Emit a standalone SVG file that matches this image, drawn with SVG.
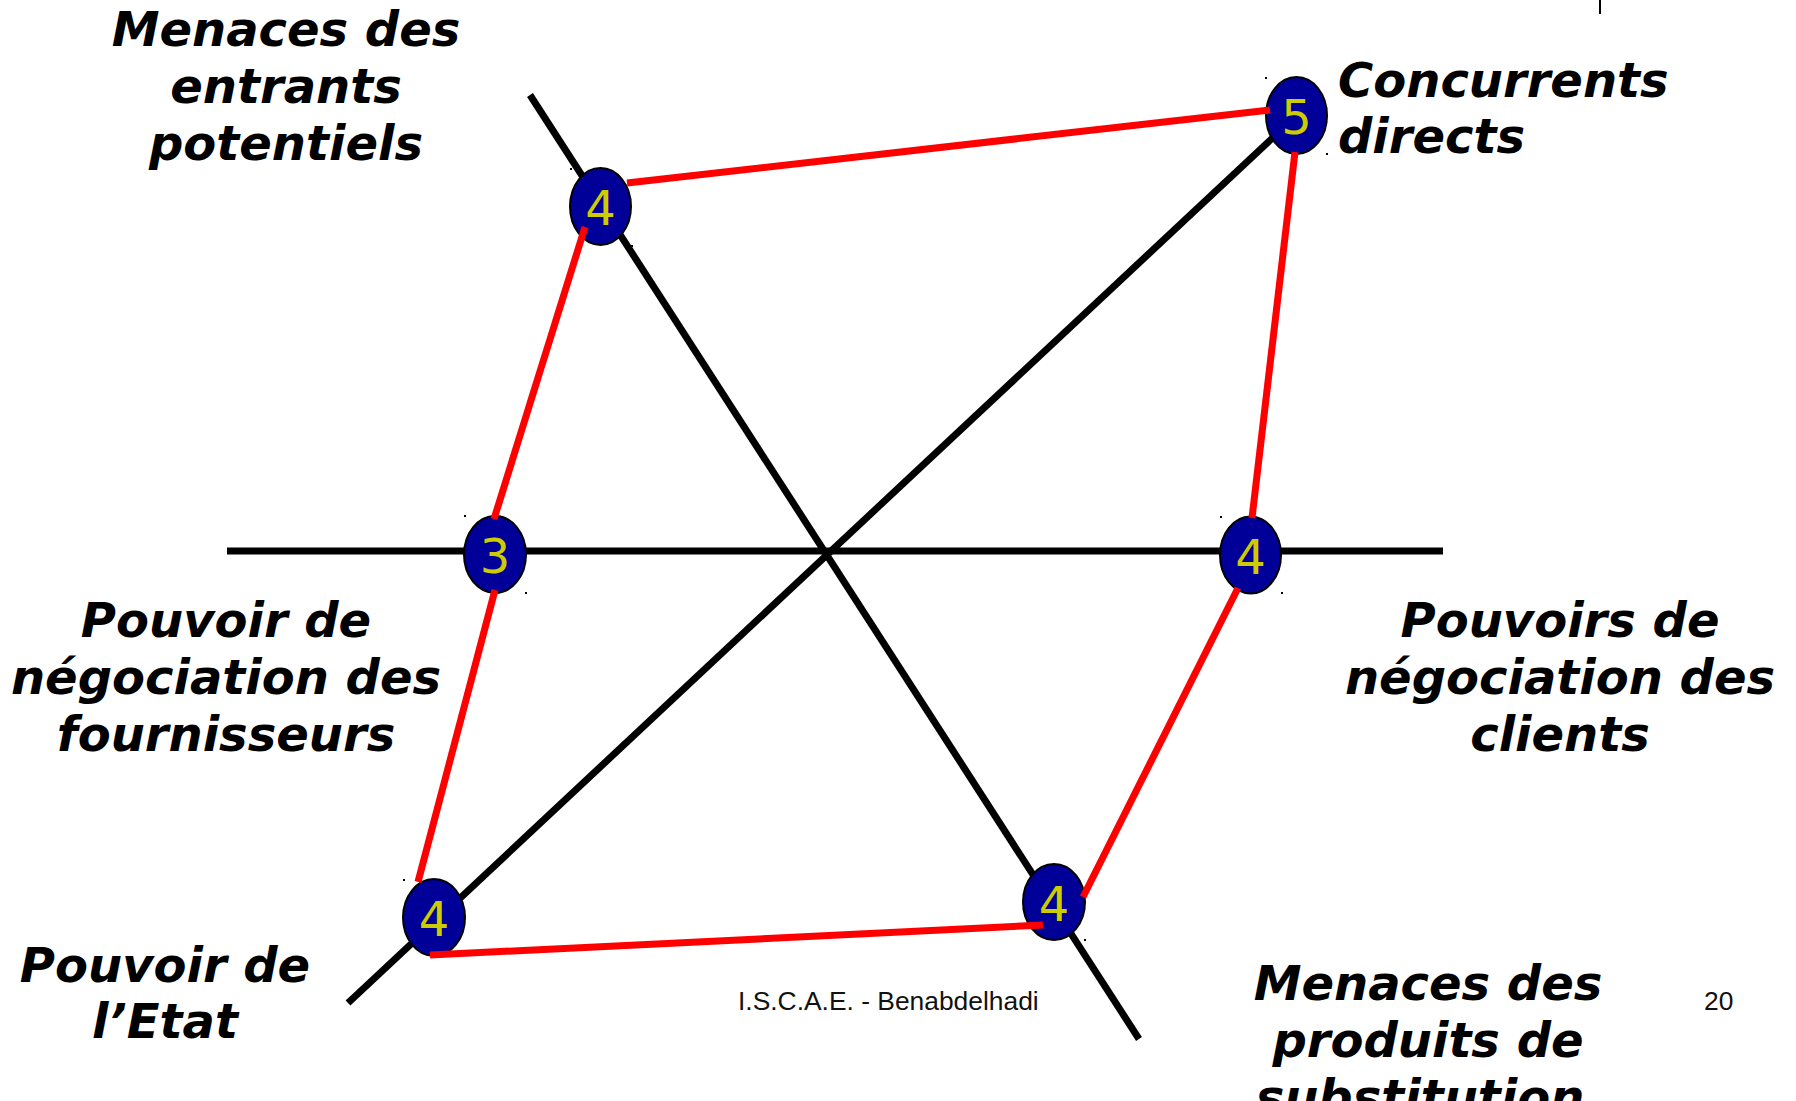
<svg xmlns="http://www.w3.org/2000/svg" width="1796" height="1101" viewBox="0 0 1796 1101">
<style>
.lbl{font-family:"DejaVu Sans",sans-serif;font-weight:bold;font-style:italic;font-size:48px;fill:#000}
.mid{text-anchor:middle}
.axis{stroke:#000;stroke-width:7;fill:none}
.red{stroke:#ff0000;stroke-width:7;fill:none}
.node ellipse{fill:#000099;stroke:#000;stroke-width:2}
.node text{font-family:"DejaVu Sans",sans-serif;font-size:48px;fill:#cccc00;text-anchor:middle}
.foot{font-family:"Liberation Sans",Arial,sans-serif;font-size:26.4px;fill:#111}
.dot{fill:#000}
</style>
<rect width="1796" height="1101" fill="#fff"/>
<line x1="1600" y1="0" x2="1600" y2="14" stroke="#000" stroke-width="2"/>
<g id="axes">
<line class="axis" x1="227" y1="551" x2="1443" y2="551"/>
<line class="axis" x1="530" y1="95" x2="1139" y2="1039"/>
<line class="axis" x1="348" y1="1003" x2="1296" y2="116"/>
</g>
<g id="labels">
<text class="lbl mid" x="286" y="46">Menaces des</text>
<text class="lbl mid" x="286" y="103">entrants</text>
<text class="lbl mid" x="286" y="160">potentiels</text>
<text class="lbl" x="1338" y="97">Concurrents</text>
<text class="lbl" x="1338" y="153">directs</text>
<text class="lbl mid" x="226" y="637">Pouvoir de</text>
<text class="lbl mid" x="226" y="694">négociation des</text>
<text class="lbl mid" x="226" y="751">fournisseurs</text>
<text class="lbl mid" x="1560" y="637">Pouvoirs de</text>
<text class="lbl mid" x="1560" y="694">négociation des</text>
<text class="lbl mid" x="1560" y="751">clients</text>
<text class="lbl mid" x="165" y="982">Pouvoir de</text>
<text class="lbl mid" x="165" y="1038">l’Etat</text>
<text class="lbl mid" x="1428" y="1000">Menaces des</text>
<text class="lbl mid" x="1428" y="1057">produits de</text>
<text class="lbl mid" x="1420" y="1114">substitution</text>
</g>
<text class="foot" x="738" y="1010">I.S.C.A.E. - Benabdelhadi</text>
<text class="foot" x="1704" y="1010">20</text>
<g id="n-entrants" class="node"><ellipse cx="600.5" cy="206.5" rx="30.5" ry="38.5"/><text x="600.5" y="225">4</text></g>
<g id="n-concurrents" class="node"><ellipse cx="1296.5" cy="115.5" rx="30.5" ry="38.5"/><text x="1296.5" y="134">5</text></g>
<g id="n-fournisseurs" class="node"><ellipse cx="495" cy="554.5" rx="31" ry="38.5"/><text x="495" y="573">3</text></g>
<g id="n-clients" class="node"><ellipse cx="1250.5" cy="555" rx="30.5" ry="38.5"/><text x="1250.5" y="574">4</text></g>
<g id="n-etat" class="node"><ellipse cx="434" cy="917.5" rx="31" ry="38.5"/><text x="434" y="936">4</text></g>
<g id="n-substitution" class="node"><ellipse cx="1054" cy="902" rx="31" ry="38"/><text x="1054" y="921">4</text></g>
<g id="markers">
<rect class="dot" x="570" y="168" width="2" height="2"/><rect class="dot" x="631" y="245" width="2" height="2"/>
<rect class="dot" x="1265" y="77" width="2" height="2"/><rect class="dot" x="1326" y="153" width="2" height="2"/>
<rect class="dot" x="464" y="515" width="2" height="2"/><rect class="dot" x="525" y="592" width="2" height="2"/>
<rect class="dot" x="1220" y="516" width="2" height="2"/><rect class="dot" x="1281" y="592" width="2" height="2"/>
<rect class="dot" x="403" y="879" width="2" height="2"/><rect class="dot" x="1084" y="939" width="2" height="2"/>
</g>
<g id="connectors">
<line class="red" x1="627" y1="183" x2="1270" y2="110"/>
<line class="red" x1="585" y1="227" x2="494" y2="519"/>
<line class="red" x1="495" y1="590" x2="418" y2="882"/>
<line class="red" x1="430" y1="955" x2="1043" y2="925"/>
<line class="red" x1="1083" y1="897" x2="1238" y2="588"/>
<line class="red" x1="1252" y1="518" x2="1295" y2="152"/>
</g>
</svg>
